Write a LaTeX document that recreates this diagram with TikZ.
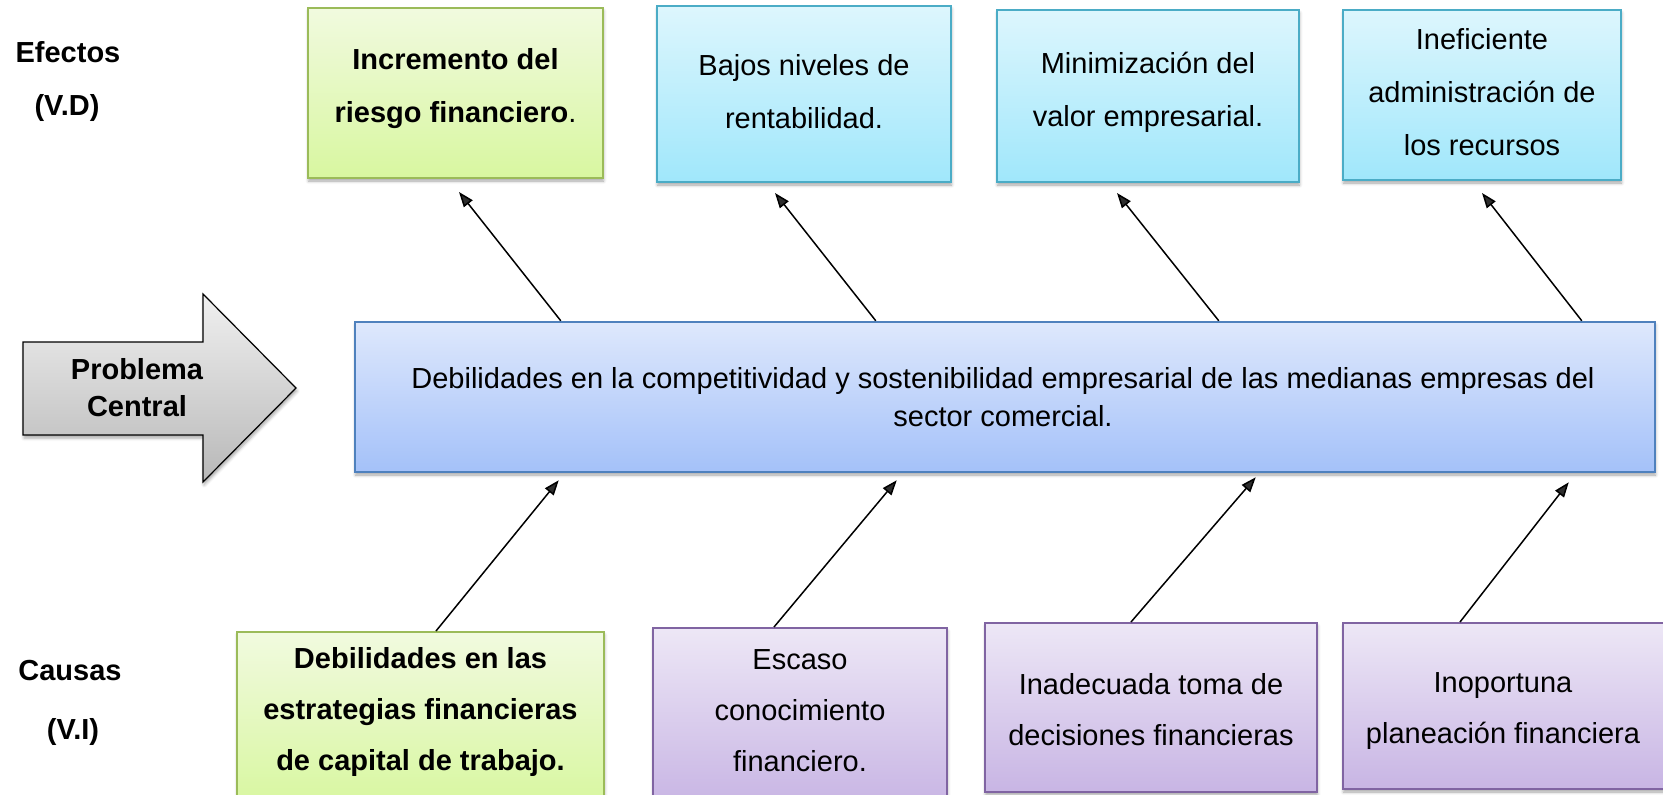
\documentclass[tikz,border=0pt]{standalone}
\usepackage{fontspec}
\setmainfont{Liberation Sans}
\usetikzlibrary{arrows.meta,calc,shadows.blur}
\definecolor{gtop}{HTML}{F1FADF}
\definecolor{gbot}{HTML}{D8F7A0}
\definecolor{gline}{HTML}{9BBB59}
\definecolor{btop}{HTML}{DDF6FD}
\definecolor{bbot}{HTML}{A0E7FB}
\definecolor{bline}{HTML}{4BACC6}
\definecolor{ptop}{HTML}{EDE7F6}
\definecolor{pbot}{HTML}{C8B5E4}
\definecolor{pline}{HTML}{8064A2}
\definecolor{mtop}{HTML}{DEE8FC}
\definecolor{mbot}{HTML}{A4C1F9}
\definecolor{mline}{HTML}{4F81BD}
\definecolor{atop}{HTML}{F0F0F0}
\definecolor{abot}{HTML}{B8B8B8}
\begin{document}
\begin{tikzpicture}[x=1pt,y=1pt,
  box/.style={rectangle, line width=2pt, inner sep=0pt,
    blur shadow={shadow xshift=0.5pt, shadow yshift=-3pt, shadow blur radius=3pt, shadow opacity=35}},
  gbox/.style={box, draw=gline, top color=gtop, bottom color=gbot},
  bbox/.style={box, draw=bline, top color=btop, bottom color=bbot},
  pbox/.style={box, draw=pline, top color=ptop, bottom color=pbot},
  mbox/.style={box, draw=mline, line width=2.5pt, top color=mtop, bottom color=mbot},
  txt/.style={inner sep=0pt, align=center, font=\fontsize{29}{51}\selectfont},
  ttxt/.style={inner sep=0pt, align=center, font=\fontsize{29}{53}\selectfont},
  mtxt/.style={inner sep=0pt, align=center, font=\fontsize{29}{38}\selectfont},
  lbl/.style={inner sep=0pt, align=center, font=\fontsize{29}{37}\selectfont\bfseries},
  arr/.style={line width=1.5pt, -{Triangle[length=15pt,width=11pt]}}
]
\path[use as bounding box] (0,0) rectangle (1663,-795);
\clip (0,0) rectangle (1663,-795);

% left labels
\node[lbl] (efe) at (68,-52) {Efectos};
\node[lbl] (vd) at (67,-108) {(V.D)};
\node[lbl] (cau) at (70,-671) {Causas};
\node[lbl] (vi) at (73,-732) {(V.I)};

% big arrow
\draw[line width=1.2pt, top color=atop, bottom color=abot,
    blur shadow={shadow xshift=1pt, shadow yshift=-3pt, shadow blur radius=3pt, shadow opacity=35}]
  (23,-342) -- (203,-342) -- (203,-294) -- (296,-388) -- (203,-482) -- (203,-435) -- (23,-435) -- cycle;
\node[lbl] (pc) at (137,-388) {Problema\\Central};

% effect boxes
\node[gbox, minimum width=295pt, minimum height=170pt] (e1) at (455.5,-93) {};
\node[bbox, minimum width=294pt, minimum height=176pt] (e2) at (804,-94) {};
\node[bbox, minimum width=302pt, minimum height=172pt] (e3) at (1148,-96) {};
\node[bbox, minimum width=278pt, minimum height=170pt] (e4) at (1482,-95) {};
\node[ttxt] (e1t) at (455.5,-89) {\textbf{Incremento del}\\\textbf{riesgo financiero}.};
\node[ttxt] (e2t) at (804,-92) {Bajos niveles de\\rentabilidad.};
\node[ttxt] (e3t) at (1148,-92) {Minimización del\\valor empresarial.};
\node[ttxt] (e4t) at (1482,-92) {Ineficiente\\administración de\\los recursos};

% central problem
\node[mbox, minimum width=1300pt, minimum height=150pt] (main) at (1005,-397) {};
\node[mtxt] (maint) at (1003,-397) {Debilidades en la competitividad y sostenibilidad empresarial de las medianas empresas del\\sector comercial.};

% cause boxes
\node[gbox, minimum width=367pt, minimum height=173pt] (c1) at (420.5,-718.5) {};
\node[pbox, minimum width=294pt, minimum height=177pt] (c2) at (800,-716.5) {};
\node[pbox, minimum width=332pt, minimum height=169pt] (c3) at (1151,-707.5) {};
\node[pbox, minimum width=323pt, minimum height=166pt] (c4) at (1504.5,-706) {};
\node[txt] (c1t) at (420.5,-712) {\textbf{Debilidades en las}\\\textbf{estrategias financieras}\\\textbf{de capital de trabajo.}};
\node[txt] (c2t) at (800,-711) {Escaso\\conocimiento\\financiero.};
\node[txt] (c3t) at (1151,-710) {Inadecuada toma de\\decisiones financieras};
\node[txt] (c4t) at (1503,-711) {Inoportuna\\planeación financiera};

% arrows to effects
\draw[arr] ($(main.north west)+(207,0)$) -- ($(e1.south)+(3.5,-13)$);
\draw[arr] ($(main.north west)+(522,0)$) -- ($(e2.south)+(-29,-10)$);
\draw[arr] ($(main.north west)+(865,0)$) -- ($(e3.south)+(-31,-10)$);
\draw[arr] ($(main.north west)+(1228,0)$) -- ($(e4.south)+(0,-12)$);

% arrows from causes
\draw[arr] ($(c1.north)+(15.5,0)$) -- ($(main.south west)+(205,-7)$);
\draw[arr] ($(c2.north)+(-26,0)$) -- ($(main.south west)+(543,-7)$);
\draw[arr] ($(c3.north)+(-20,0)$) -- ($(main.south west)+(902,-4)$);
\draw[arr] ($(c4.north)+(-44.5,0)$) -- ($(main.south west)+(1215,-9)$);
\end{tikzpicture}
\end{document}
